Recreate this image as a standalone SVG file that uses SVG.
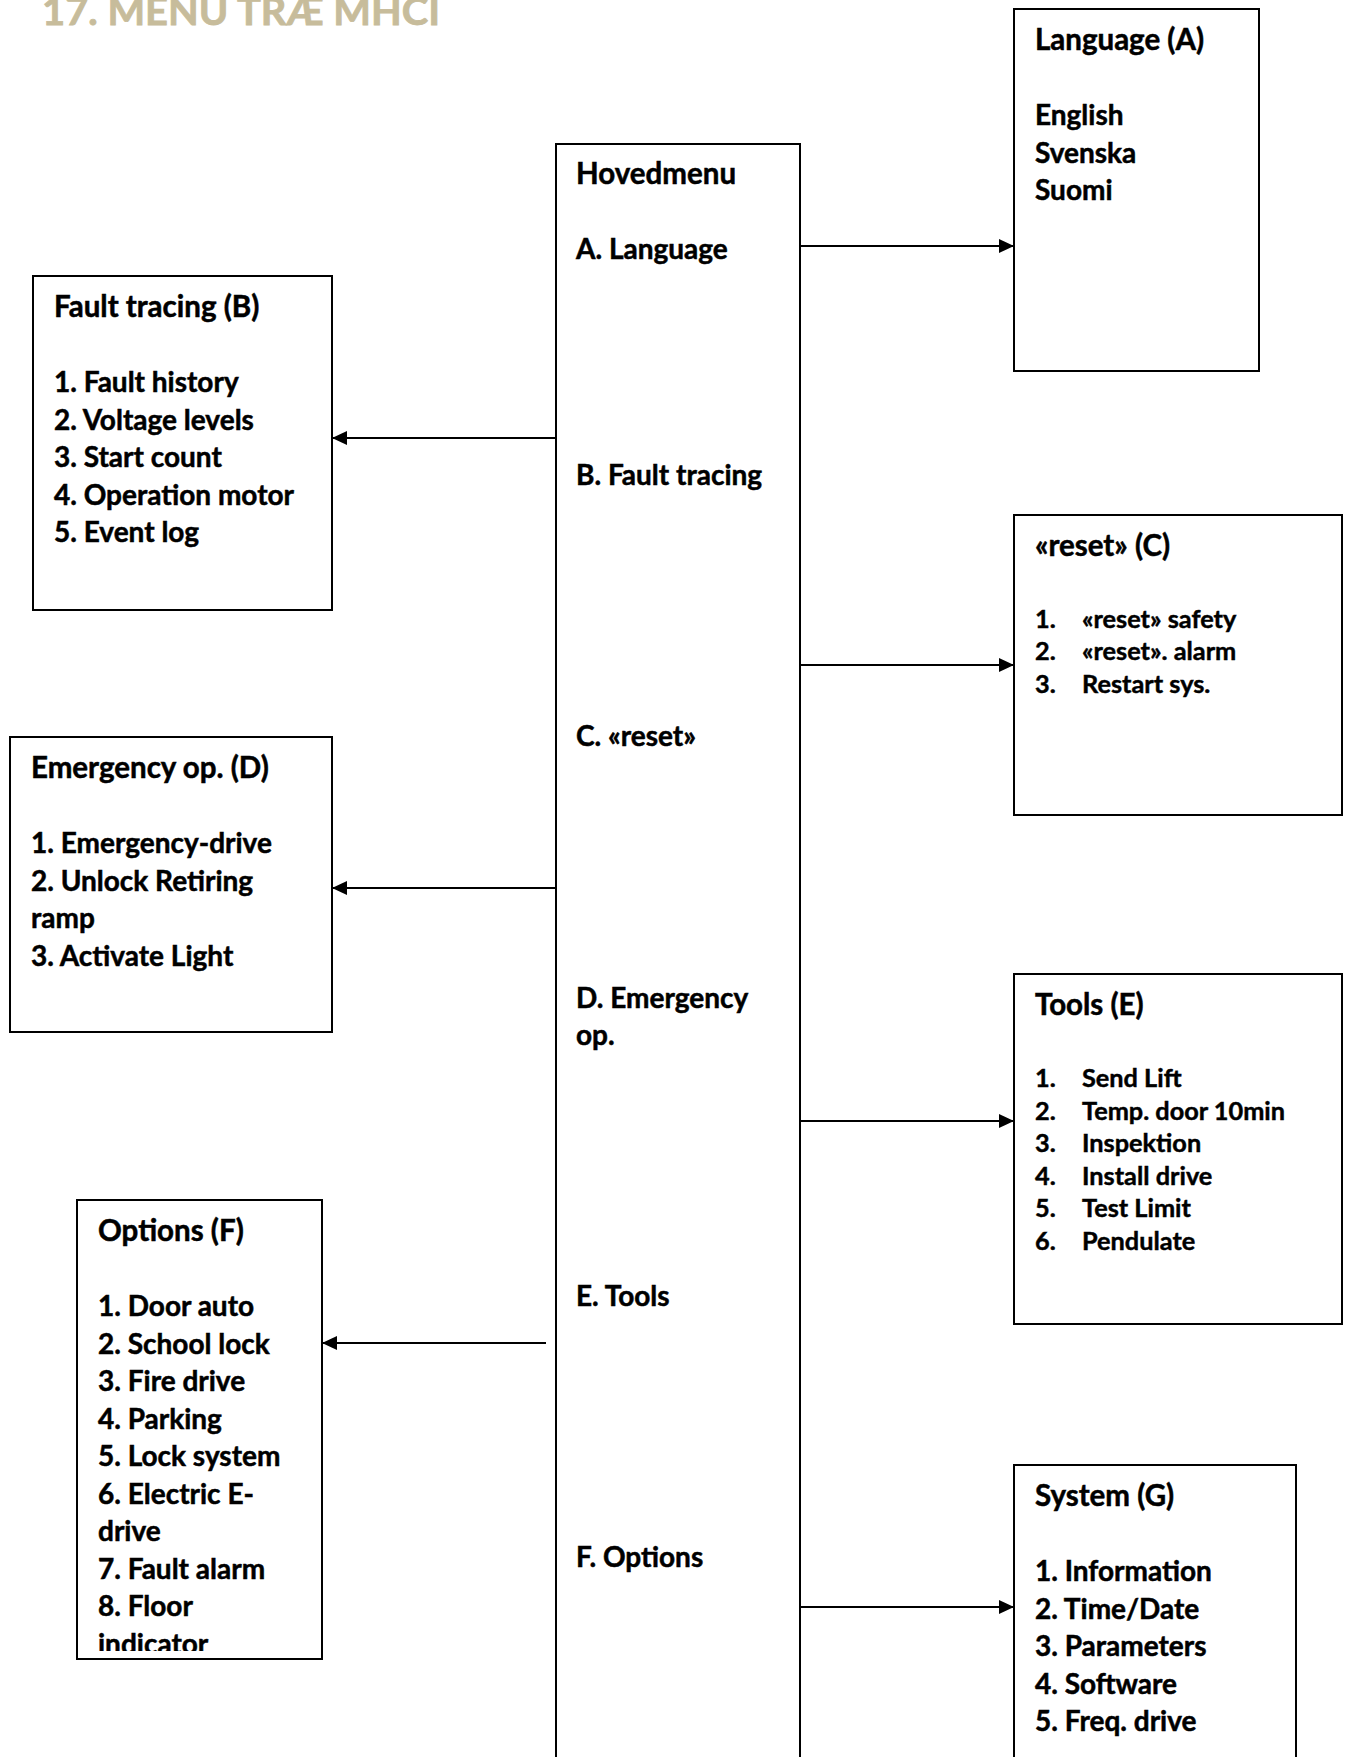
<svg xmlns="http://www.w3.org/2000/svg" width="1346" height="1757" viewBox="0 0 1346 1757">
<style>
.box{fill:#fff;stroke:#000;stroke-width:2}
.t{font-family:Lato,"Open Sans","Liberation Sans",sans-serif;font-weight:bold;font-size:28px;fill:#000;stroke:#000;stroke-width:0.5}
.h{font-family:Lato,"Open Sans","Liberation Sans",sans-serif;font-weight:bold;font-size:29.5px;fill:#000;stroke:#000;stroke-width:0.5}
.s{font-family:Lato,"Open Sans","Liberation Sans",sans-serif;font-weight:bold;font-size:25.3px;fill:#000;stroke:#000;stroke-width:0.45}
.title{font-family:Lato,"Liberation Sans",sans-serif;font-weight:bold;font-size:39px;fill:#c7bc9b;stroke:#c7bc9b;stroke-width:0.8}
.con{stroke:#000;stroke-width:2;fill:none;marker-end:url(#ah)}
</style>
<defs>
<marker id="ah" viewBox="0 0 15 14" refX="15" refY="7" markerWidth="15" markerHeight="14" markerUnits="userSpaceOnUse" orient="auto"><path d="M0,0 L15,7 L0,14 z" fill="#000"/></marker>
<clipPath id="clipF"><rect x="77" y="1200" width="245" height="451"/></clipPath>
</defs>
<rect width="1346" height="1757" fill="#fff"/>
<text class="title" x="42" y="25" textLength="398" lengthAdjust="spacingAndGlyphs">17. MENU TRÆ MHCI</text>

<g id="connectors">
<line class="con" x1="800" y1="246" x2="1014" y2="246"/>
<line class="con" x1="556" y1="438" x2="332" y2="438"/>
<line class="con" x1="800" y1="665" x2="1014" y2="665"/>
<line class="con" x1="556" y1="888" x2="332" y2="888"/>
<line class="con" x1="800" y1="1121" x2="1014" y2="1121"/>
<line class="con" x1="546" y1="1343" x2="322" y2="1343"/>
<line class="con" x1="800" y1="1607" x2="1014" y2="1607"/>
</g>

<g id="hovedmenu">
<rect class="box" x="556" y="144" width="244" height="1700"/>
<text class="h" x="576" y="184">Hovedmenu</text>
<text class="t" x="576" y="259">A. Language</text>
<text class="t" x="576" y="485">B. Fault tracing</text>
<text class="t" x="576" y="746">C. «reset»</text>
<text class="t" x="576" y="1008">D. Emergency</text>
<text class="t" x="576" y="1045">op.</text>
<text class="t" x="576" y="1306">E. Tools</text>
<text class="t" x="576" y="1567">F. Options</text>
</g>

<g id="language">
<rect class="box" x="1014" y="9" width="245" height="362"/>
<text class="h" x="1035" y="50">Language (A)</text>
<text class="t" x="1035" y="125">English</text>
<text class="t" x="1035" y="162.5">Svenska</text>
<text class="t" x="1035" y="200">Suomi</text>
</g>

<g id="fault-tracing">
<rect class="box" x="33" y="276" width="299" height="334"/>
<text class="h" x="54" y="317">Fault tracing (B)</text>
<text class="t" x="54" y="392">1. Fault history</text>
<text class="t" x="54" y="429.5">2. Voltage levels</text>
<text class="t" x="54" y="467">3. Start count</text>
<text class="t" x="54" y="504.5">4. Operation motor</text>
<text class="t" x="54" y="542">5. Event log</text>
</g>

<g id="reset">
<rect class="box" x="1014" y="515" width="328" height="300"/>
<text class="h" x="1035" y="556">«reset» (C)</text>
<text class="s" x="1035" y="627.5">1.</text><text class="s" x="1082" y="627.5">«reset» safety</text>
<text class="s" x="1035" y="660">2.</text><text class="s" x="1082" y="660">«reset». alarm</text>
<text class="s" x="1035" y="692.5">3.</text><text class="s" x="1082" y="692.5">Restart sys.</text>
</g>

<g id="emergency">
<rect class="box" x="10" y="737" width="322" height="295"/>
<text class="h" x="31" y="778">Emergency op. (D)</text>
<text class="t" x="31" y="853">1. Emergency-drive</text>
<text class="t" x="31" y="890.5">2. Unlock Retiring</text>
<text class="t" x="31" y="928">ramp</text>
<text class="t" x="31" y="965.5">3. Activate Light</text>
</g>

<g id="tools">
<rect class="box" x="1014" y="974" width="328" height="350"/>
<text class="h" x="1035" y="1015">Tools (E)</text>
<text class="s" x="1035" y="1087">1.</text><text class="s" x="1082" y="1087">Send Lift</text>
<text class="s" x="1035" y="1119.5">2.</text><text class="s" x="1082" y="1119.5">Temp. door 10min</text>
<text class="s" x="1035" y="1152">3.</text><text class="s" x="1082" y="1152">Inspektion</text>
<text class="s" x="1035" y="1184.5">4.</text><text class="s" x="1082" y="1184.5">Install drive</text>
<text class="s" x="1035" y="1217">5.</text><text class="s" x="1082" y="1217">Test Limit</text>
<text class="s" x="1035" y="1249.5">6.</text><text class="s" x="1082" y="1249.5">Pendulate</text>
</g>

<g id="options">
<rect class="box" x="77" y="1200" width="245" height="459"/>
<g clip-path="url(#clipF)">
<text class="h" x="98" y="1241">Options (F)</text>
<text class="t" x="98" y="1316">1. Door auto</text>
<text class="t" x="98" y="1353.5">2. School lock</text>
<text class="t" x="98" y="1391">3. Fire drive</text>
<text class="t" x="98" y="1428.5">4. Parking</text>
<text class="t" x="98" y="1466">5. Lock system</text>
<text class="t" x="98" y="1503.5">6. Electric E-</text>
<text class="t" x="98" y="1541">drive</text>
<text class="t" x="98" y="1578.5">7. Fault alarm</text>
<text class="t" x="98" y="1616">8. Floor</text>
<text class="t" x="98" y="1653.5">indicator</text>
</g>
</g>

<g id="system">
<rect class="box" x="1014" y="1465" width="282" height="400"/>
<text class="h" x="1035" y="1506">System (G)</text>
<text class="t" x="1035" y="1581">1. Information</text>
<text class="t" x="1035" y="1618.5">2. Time/Date</text>
<text class="t" x="1035" y="1656">3. Parameters</text>
<text class="t" x="1035" y="1693.5">4. Software</text>
<text class="t" x="1035" y="1731">5. Freq. drive</text>
</g>
</svg>
